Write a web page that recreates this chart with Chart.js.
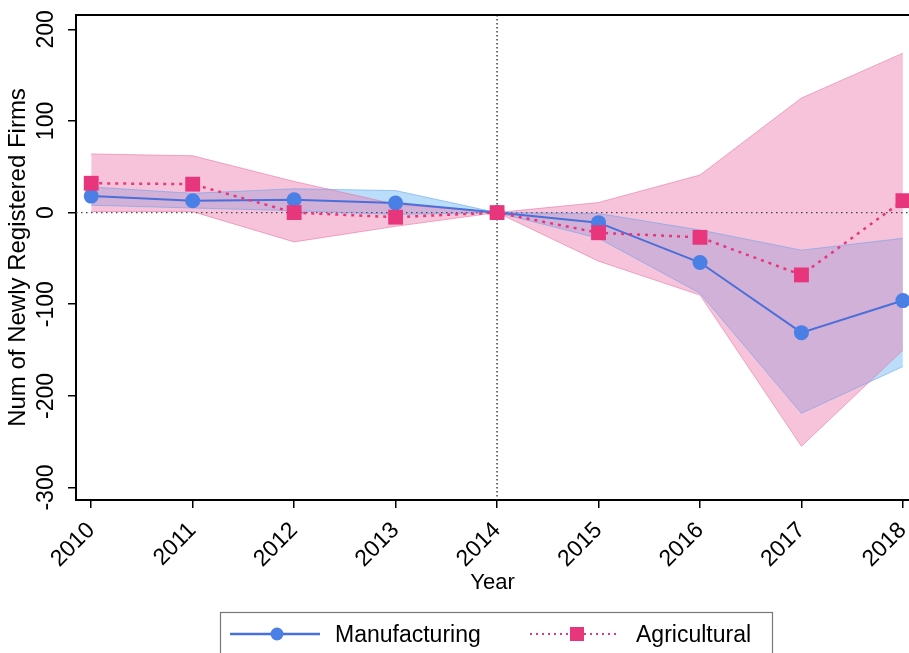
<!DOCTYPE html>
<html><head><meta charset="utf-8">
<style>html,body{margin:0;padding:0;background:#fff;overflow:hidden}#wrap{position:relative;width:909px;height:653px}</style>
<script src="https://cdn.jsdelivr.net/npm/chart.js@4.4.1/dist/chart.umd.min.js"></script>
</head><body><div id="wrap"><canvas id="c" width="909" height="653"></canvas></div>
<script>
const years = [2010, 2011, 2012, 2013, 2014, 2015, 2016, 2017, 2018];
const yTicks = [-300, -200, -100, 0, 100, 200];
const manufacturing      = [18, 13, 14, 10.5, 0, -11, -54.5, -131, -96];
const manufacturingLower = [8, 5, 2, -2, 0, -28, -88, -219, -168];
const manufacturingUpper = [28, 21, 26, 24, 0, -1, -19, -41, -28];
const agricultural       = [32, 31, 0, -5, 0, -22, -27, -68, 13];
const agriculturalLower  = [1, 1, -32, -15, 0, -53, -90, -255, -150];
const agriculturalUpper  = [64, 62, 34, 9, 0, 11, 41, 125, 174];
const seriesNames = ['Manufacturing', 'Agricultural'];
const refYear = 2014;

const FONT = '"Liberation Sans", Arial, Helvetica, sans-serif';
const BLUE_LINE = '#4a6fd8', BLUE_PT = '#4a7fe6';
const PINK = '#e8367c';
const pts = arr => arr.map((v, i) => ({x: years[i], y: v}));

const refLines = {
  id: 'refLines',
  beforeDatasetsDraw(chart) {
    const {ctx, chartArea: a, scales: {x, y}} = chart;
    ctx.save();
    ctx.strokeStyle = '#444'; ctx.lineWidth = 1.3; ctx.setLineDash([1.5, 3.5]);
    const y0 = y.getPixelForValue(0);
    ctx.beginPath(); ctx.moveTo(a.left, y0); ctx.lineTo(a.right, y0); ctx.stroke();
    const xr = x.getPixelForValue(refYear);
    ctx.strokeStyle = '#222'; ctx.setLineDash([1.5, 2.5]);
    ctx.beginPath(); ctx.moveTo(xr, a.top); ctx.lineTo(xr, a.bottom); ctx.stroke();
    ctx.restore();
  }
};
const decor = {
  id: 'decor',
  afterDraw(chart) {
    const {ctx, chartArea: a, scales: {y}} = chart;
    ctx.save();
    ctx.strokeStyle = '#000'; ctx.lineWidth = 2;
    ctx.beginPath(); ctx.moveTo(a.left, a.top); ctx.lineTo(a.right, a.top); ctx.stroke();
    ctx.fillStyle = '#000'; ctx.font = '23px ' + FONT;
    ctx.textAlign = 'center'; ctx.textBaseline = 'middle';
    yTicks.forEach(v => {
      ctx.save(); ctx.translate(47, y.getPixelForValue(v)); ctx.rotate(-Math.PI / 2);
      ctx.fillText(String(v), 0, 0); ctx.restore();
    });
    ctx.strokeStyle = '#777'; ctx.lineWidth = 1.2;
    ctx.strokeRect(220.5, 612.5, 552, 60);
    const ly = 634;
    ctx.strokeStyle = BLUE_LINE; ctx.lineWidth = 2.5;
    ctx.beginPath(); ctx.moveTo(230, ly); ctx.lineTo(320, ly); ctx.stroke();
    ctx.fillStyle = BLUE_PT; ctx.beginPath(); ctx.arc(277, ly, 6.5, 0, Math.PI * 2); ctx.fill();
    ctx.strokeStyle = PINK; ctx.lineWidth = 2; ctx.setLineDash([2, 4]);
    ctx.beginPath(); ctx.moveTo(530, ly); ctx.lineTo(618, ly); ctx.stroke();
    ctx.setLineDash([]);
    ctx.fillStyle = PINK; ctx.fillRect(570, ly - 7, 14, 14);
    ctx.fillStyle = '#000'; ctx.font = '23px ' + FONT; ctx.textAlign = 'left'; ctx.textBaseline = 'alphabetic';
    ctx.fillText(seriesNames[0], 335, ly + 8);
    ctx.fillText(seriesNames[1], 636, ly + 8);
    ctx.restore();
  }
};

new Chart(document.getElementById('c'), {
  type: 'line',
  data: {
    datasets: [
      {label: seriesNames[1], data: pts(agricultural), borderColor: PINK, borderWidth: 2.5, borderDash: [3, 5],
       pointStyle: 'rect', pointRadius: 10.5, pointBackgroundColor: PINK, pointBorderWidth: 0, fill: false, tension: 0},
      {label: seriesNames[0], data: pts(manufacturing), borderColor: BLUE_LINE, borderWidth: 2,
       pointStyle: 'circle', pointRadius: 7.5, pointBackgroundColor: BLUE_PT, pointBorderWidth: 0, fill: false, tension: 0},
      {label: 'agriLo', data: pts(agriculturalLower), borderColor: 'rgba(225,110,160,0.55)', borderWidth: 1, pointRadius: 0, fill: false},
      {label: 'agriHi', data: pts(agriculturalUpper), borderColor: 'rgba(225,110,160,0.55)', borderWidth: 1, pointRadius: 0,
       fill: '-1', backgroundColor: 'rgba(238,122,176,0.45)'},
      {label: 'manuLo', data: pts(manufacturingLower), borderColor: 'rgba(100,160,235,0.55)', borderWidth: 1, pointRadius: 0, fill: false},
      {label: 'manuHi', data: pts(manufacturingUpper), borderColor: 'rgba(100,160,235,0.55)', borderWidth: 1, pointRadius: 0,
       fill: '-1', backgroundColor: 'rgba(140,200,245,0.6)'}
    ]
  },
  options: {
    responsive: false, animation: false, devicePixelRatio: 1,
    layout: {autoPadding: false, padding: {left: 0, right: 0, top: 15, bottom: 53}},
    plugins: {legend: {display: false}, tooltip: {enabled: false}, filler: {drawTime: 'beforeDatasetsDraw'}},
    scales: {
      x: {
        type: 'linear', min: 2009.85, max: 2018.06,
        afterBuildTicks: s => { s.ticks = years.map(v => ({value: v})); },
        afterFit: s => { s.height = 100; s.paddingLeft = 0; s.paddingRight = 0; },
        ticks: {minRotation: 45, maxRotation: 45, color: '#000', font: {family: FONT, size: 23}, padding: 9,
                callback: v => String(v)},
        grid: {drawOnChartArea: false, drawTicks: true, tickLength: 8, color: '#000', lineWidth: 1.5},
        border: {display: true, color: '#000', width: 2},
        title: {display: true, text: 'Year', color: '#000', font: {family: FONT, size: 22}, padding: {top: 0, bottom: 4}}
      },
      y: {
        type: 'linear', min: -313.6, max: 215.6,
        afterBuildTicks: s => { s.ticks = yTicks.map(v => ({value: v})); },
        afterFit: s => { s.width = 76; s.paddingTop = 0; s.paddingBottom = 0; },
        ticks: {callback: () => '', padding: 0},
        grid: {drawOnChartArea: false, drawTicks: true, tickLength: 8, color: '#000', lineWidth: 1.5},
        border: {display: true, color: '#000', width: 2},
        title: {display: true, text: 'Num of Newly Registered Firms', color: '#000', font: {family: FONT, size: 24}, padding: {top: 4, bottom: 0}}
      }
    }
  },
  plugins: [refLines, decor]
});
</script></body></html>
